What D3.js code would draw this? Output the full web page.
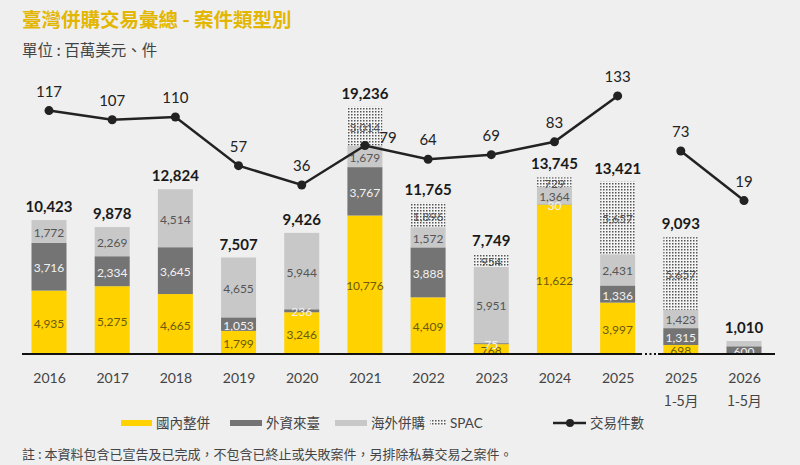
<!DOCTYPE html>
<html>
<head>
<meta charset="utf-8">
<script src="https://cdn.jsdelivr.net/npm/d3@7"></script>
<style>
  html, body { margin: 0; padding: 0; background: #efefef; }
  svg { display: block; }
  .num { font-family: Lato, "Open Sans", sans-serif; }
  .cjk { font-family: "Noto Sans CJK TC", "Noto Sans", sans-serif; }
</style>
</head>
<body>
<svg id="chart"></svg>
<script>
const categories = ['2016', '2017', '2018', '2019', '2020', '2021', '2022', '2023', '2024', '2025', '2025 1-5月', '2026 1-5月'];
const domestic = [4935, 5275, 4665, 1799, 3246, 10776, 4409, 768, 11622, 3997, 698, 0];
const inbound = [3716, 2334, 3645, 1053, 236, 3767, 3888, 75, 30, 1336, 1315, 600];
const outbound = [1772, 2269, 4514, 4655, 5944, 1679, 1572, 5951, 1364, 2431, 1423, 410];
const spac = [0, 0, 0, 0, 0, 3014, 1896, 954, 729, 5657, 5657, 0];
const totals = [10423, 9878, 12824, 7507, 9426, 19236, 11765, 7749, 13745, 13421, 9093, 1010];
const dealCounts = [117, 107, 110, 57, 36, 79, 64, 69, 83, 133, 73, 19];
const seriesNames = ['國內整併', '外資來臺', '海外併購', 'SPAC'];
// segments shown without a value label in the source: [series, category]
const unlabeled = [[2, '2026 1-5月']];

const W = 800, H = 465;
const BASE = 354;
const BAR_W = 35;

const svg = d3.select('#chart').attr('width', W).attr('height', H);

// dotted pattern for SPAC
const defs = svg.append('defs');
const pat = defs.append('pattern')
  .attr('id', 'dots')
  .attr('width', 3)
  .attr('height', 3)
  .attr('patternUnits', 'userSpaceOnUse');
pat.append('rect').attr('width', 3).attr('height', 3).attr('fill', '#f4f4f4');
pat.append('rect').attr('width', 1.5).attr('height', 1.5).attr('fill', '#555');

const x = d3.scalePoint().domain(categories).range([49, 744]);
const y = d3.scaleLinear().domain([0, 20000]).range([BASE, 97]);
const yLine = d3.scaleLinear().domain([0, 140]).range([218, 89.5]);

const colors = ['#ffd200', '#747474', '#c8c8c8', 'url(#dots)'];
const labelColors = ['#6b5a10', '#f2f2f2', '#555', '#555'];

const rows = categories.map((c, i) => ({
  cat: c,
  0: domestic[i], 1: inbound[i], 2: outbound[i], 3: spac[i],
}));
const stacked = d3.stack().keys([0, 1, 2, 3])(rows);

// title
svg.append('text')
  .attr('class', 'cjk')
  .attr('x', 22).attr('y', 27)
  .attr('fill', '#e3b600')
  .attr('font-size', 19.5)
  .attr('font-weight', 700)
  .text('臺灣併購交易彙總 - 案件類型別');
svg.append('text')
  .attr('class', 'cjk')
  .attr('x', 22).attr('y', 56)
  .attr('fill', '#444')
  .attr('font-size', 15.5)
  .text('單位 : 百萬美元、件');

// bars
const layers = svg.append('g').attr('id', 'bars')
  .selectAll('g')
  .data(stacked)
  .enter()
    .append('g')
    .attr('fill', (d, i) => colors[i]);

layers.selectAll('rect')
  .data((d) => d.filter((s) => s[1] > s[0]))
  .enter()
    .append('rect')
    .attr('x', (d) => x(d.data.cat) - BAR_W / 2)
    .attr('y', (d) => y(d[1]))
    .attr('width', BAR_W)
    .attr('height', (d) => y(d[0]) - y(d[1]));

// segment labels
svg.append('g').attr('id', 'seg-labels')
  .selectAll('g')
  .data(stacked)
  .enter()
    .append('g')
    .attr('fill', (d, i) => labelColors[i])
    .selectAll('text')
    .data((d) => d.filter((s) => s[1] > s[0]
      && !unlabeled.some((u) => u[0] === d.key && u[1] === s.data.cat)))
    .enter()
      .append('text')
      .attr('class', 'num')
      .attr('font-size', 12)
      .attr('text-anchor', 'middle')
      .attr('dominant-baseline', 'central')
      .attr('x', (d) => x(d.data.cat))
      .attr('y', (d) => (y(d[0]) + y(d[1])) / 2 + 1)
      .text((d) => d3.format(',')(d[1] - d[0]));

// totals
svg.append('g').attr('id', 'totals')
  .selectAll('text')
  .data(totals)
  .enter()
    .append('text')
    .attr('class', 'num')
    .attr('font-size', 15)
    .attr('font-weight', 700)
    .attr('fill', '#1a1a1a')
    .attr('text-anchor', 'middle')
    .attr('x', (d, i) => x(categories[i]))
    .attr('y', (d) => y(d) - 8)
    .text((d) => d3.format(',')(d));

// baseline with break
const axisG = svg.append('g').attr('id', 'axis');
axisG.append('line')
  .attr('x1', 22).attr('x2', 642).attr('y1', BASE).attr('y2', BASE)
  .attr('stroke', '#111').attr('stroke-width', 2);
axisG.append('line')
  .attr('x1', 645).attr('x2', 656).attr('y1', BASE).attr('y2', BASE)
  .attr('stroke', '#111').attr('stroke-width', 2)
  .attr('stroke-dasharray', '2,2.5');
axisG.append('line')
  .attr('x1', 658).attr('x2', 775).attr('y1', BASE).attr('y2', BASE)
  .attr('stroke', '#111').attr('stroke-width', 2);

const xAxis = svg.append('g')
  .attr('transform', `translate(0,${BASE})`)
  .call(d3.axisBottom(x).tickSize(0).tickPadding(0).tickFormat(''));
xAxis.select('.domain').remove();
xAxis.selectAll('.tick text').remove();
xAxis.selectAll('.tick')
  .each(function (d) {
    const parts = d.split(' ');
    const t = d3.select(this);
    parts.forEach((p, k) => {
      t.append('text')
        .attr('class', k === 0 ? 'num' : 'cjk')
        .attr('fill', '#444')
        .attr('font-size', 14)
        .attr('text-anchor', 'middle')
        .attr('y', 29 + k * 23)
        .text(p);
    });
  });

// deal count line (broken between full year and YTD)
const pts = dealCounts.map((v, i) => ({ cat: categories[i], v, i }));
const segments = [pts.slice(0, 10), pts.slice(10)];
const line = d3.line().x((d) => x(d.cat)).y((d) => yLine(d.v));
const lineG = svg.append('g').attr('id', 'line');
lineG.selectAll('path')
  .data(segments)
  .enter()
    .append('path')
    .attr('d', line)
    .attr('fill', 'none')
    .attr('stroke', '#222')
    .attr('stroke-width', 2.5);
lineG.selectAll('circle')
  .data(pts)
  .enter()
    .append('circle')
    .attr('cx', (d) => x(d.cat))
    .attr('cy', (d) => yLine(d.v))
    .attr('r', 4.5)
    .attr('fill', '#222');
lineG.selectAll('text')
  .data(pts)
  .enter()
    .append('text')
    .attr('class', 'num')
    .attr('font-size', 15)
    .attr('fill', '#222')
    .attr('text-anchor', 'middle')
    .attr('x', (d) => x(d.cat) + (d.i === 5 ? 23 : 0))
    .attr('y', (d) => yLine(d.v) - (d.i === 5 ? 2 : 14))
    .text((d) => d.v);

// legend
const legend = svg.append('g').attr('id', 'legend');
const legendItems = [
  { x: 121, fill: colors[0], w: 31 },
  { x: 230, fill: colors[1], w: 32 },
  { x: 335, fill: colors[2], w: 32 },
  { x: 430, fill: colors[3], w: 16 },
];
legendItems.forEach((d, i) => {
  legend.append('rect')
    .attr('x', d.x).attr('y', 420)
    .attr('width', d.w).attr('height', 6)
    .attr('fill', d.fill);
  legend.append('text')
    .attr('class', i === 3 ? 'num' : 'cjk')
    .attr('x', d.x + d.w + 4).attr('y', 428)
    .attr('font-size', 13.5)
    .attr('fill', '#444')
    .text(seriesNames[i]);
});
legend.append('line')
  .attr('x1', 553).attr('x2', 586).attr('y1', 423).attr('y2', 423)
  .attr('stroke', '#222').attr('stroke-width', 2.5);
legend.append('circle')
  .attr('cx', 570).attr('cy', 423).attr('r', 4).attr('fill', '#222');
legend.append('text')
  .attr('class', 'cjk')
  .attr('x', 590).attr('y', 428)
  .attr('font-size', 13.5)
  .attr('fill', '#444')
  .text('交易件數');

// footnote
svg.append('text')
  .attr('class', 'cjk')
  .attr('x', 22).attr('y', 459)
  .attr('font-size', 13)
  .attr('fill', '#444')
  .text('註 : 本資料包含已宣告及已完成，不包含已終止或失敗案件，另排除私募交易之案件。');
</script>
</body>
</html>
